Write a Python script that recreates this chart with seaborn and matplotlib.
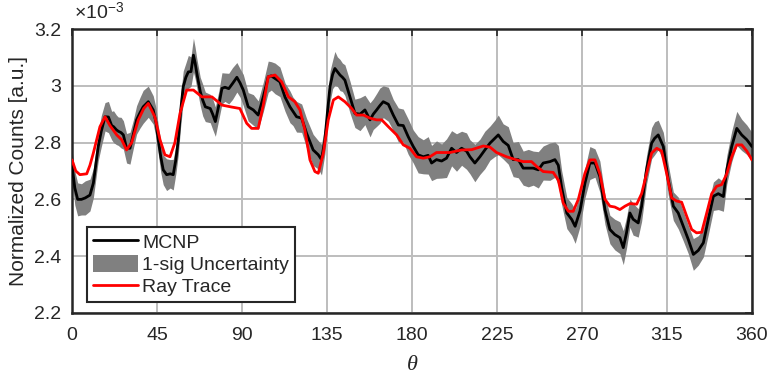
import numpy as np
import pandas as pd
import matplotlib
matplotlib.use("Agg")
import matplotlib.pyplot as plt
from matplotlib.patches import Patch
from matplotlib.lines import Line2D
import seaborn as sns

# MCNP angular response (x 1e-3) and its 1-sigma uncertainty
theta_mcnp = [0, 1.5, 3, 5, 7, 9.5, 11.3, 13.9, 15.5, 17.5,
              19.3, 21, 22, 23.5, 24.5, 26, 27.2, 28.9, 30.7, 32.5,
              34.2, 36, 37.7, 40.4, 43, 44.5, 45.7, 47, 48.3, 50.1,
              52, 53.6, 55, 56.3, 57.5, 58.9, 60.3, 61.6, 63, 64.3,
              65.2, 66.1, 67.9, 69.2, 70.6, 73.2, 74.5, 75.9, 77.7, 79.4,
              81, 83, 85, 87.3, 89, 90.7, 93.3, 96, 98.6, 101.3,
              103.9, 105.5, 107.5, 110.1, 112.8, 115.4, 117, 118.9, 121.6, 124.2,
              127.7, 130.4, 132.1, 133.9, 135.3, 136.6, 138, 139.2, 140.5, 141.9,
              143.2, 144.5, 147.2, 149.8, 152.5, 155.1, 157.8, 159.5, 161.3, 163,
              164.8, 167.5, 170.1, 172.8, 175.4, 178, 180.7, 183.3, 186, 188.6,
              190.4, 193, 195.7, 198.3, 201, 203.6, 206.3, 208.9, 210.7, 213.3,
              216, 218.6, 221.3, 223.9, 225.7, 228.3, 231, 233.6, 236.3, 238.9,
              241.6, 244.2, 246.9, 249.5, 253.1, 255.7, 257.5, 259.3, 262, 264.6,
              266.4, 269, 271.6, 274.2, 276.9, 279.5, 282.2, 284.8, 287.4, 290.1,
              291.9, 293.6, 295.4, 297.1, 299.8, 301.6, 304.2, 306.9, 308.5, 310.4,
              313.1, 315.7, 318.4, 321, 323.7, 326.3, 329, 331.6, 334.3, 336.9,
              339.6, 342.2, 344.9, 346.7, 349.3, 352, 354.6, 357.3, 360]
mcnp = [2.72, 2.64, 2.60, 2.60, 2.605, 2.615, 2.657, 2.786, 2.84, 2.891,
        2.89, 2.86, 2.856, 2.845, 2.84, 2.835, 2.827, 2.78, 2.78, 2.83,
        2.88, 2.905, 2.926, 2.944, 2.915, 2.87, 2.809, 2.75, 2.704, 2.687,
        2.69, 2.687, 2.74, 2.81, 2.91, 2.997, 3.03, 3.049, 3.05, 3.108,
        3.08, 3.044, 2.98, 2.95, 2.926, 2.92, 2.90, 2.874, 2.93, 2.991,
        2.995, 2.99, 3.008, 3.03, 3.01, 2.985, 2.926, 2.915, 2.897, 2.961,
        3.032, 3.035, 3.026, 3.014, 2.96, 2.926, 2.91, 2.891, 2.886, 2.833,
        2.774, 2.757, 2.74, 2.81, 2.91, 2.997, 3.04, 3.061, 3.05, 3.038,
        3.03, 3.02, 2.96, 2.903, 2.90, 2.915, 2.88, 2.90, 2.915, 2.93,
        2.944, 2.935, 2.897, 2.862, 2.86, 2.821, 2.786, 2.757, 2.75, 2.755,
        2.728, 2.74, 2.735, 2.745, 2.78, 2.765, 2.78, 2.77, 2.75, 2.728,
        2.75, 2.774, 2.798, 2.815, 2.827, 2.804, 2.79, 2.74, 2.74, 2.71,
        2.71, 2.71, 2.704, 2.728, 2.733, 2.74, 2.72, 2.640, 2.552, 2.529,
        2.505, 2.56, 2.657, 2.728, 2.728, 2.68, 2.564, 2.494, 2.476, 2.465,
        2.430, 2.482, 2.552, 2.53, 2.517, 2.576, 2.704, 2.798, 2.815, 2.827,
        2.786, 2.669, 2.576, 2.552, 2.505, 2.459, 2.406, 2.42, 2.447, 2.529,
        2.611, 2.62, 2.61, 2.704, 2.786, 2.850, 2.827, 2.81, 2.786]
sigma = [0.055, 0.06, 0.058, 0.055, 0.06, 0.056, 0.052, 0.05, 0.055, 0.05,
         0.055, 0.05, 0.056, 0.052, 0.05, 0.054, 0.05, 0.052, 0.056, 0.05,
         0.05, 0.054, 0.058, 0.055, 0.05, 0.052, 0.05, 0.055, 0.052, 0.056,
         0.05, 0.054, 0.05, 0.052, 0.056, 0.055, 0.05, 0.058, 0.052, 0.06,
         0.055, 0.052, 0.05, 0.056, 0.052, 0.05, 0.054, 0.052, 0.05, 0.055,
         0.05, 0.054, 0.056, 0.052, 0.05, 0.055, 0.05, 0.054, 0.05, 0.052,
         0.055, 0.05, 0.054, 0.052, 0.05, 0.056, 0.05, 0.054, 0.05, 0.052,
         0.055, 0.05, 0.054, 0.05, 0.052, 0.055, 0.05, 0.06, 0.052, 0.055,
         0.05, 0.054, 0.056, 0.05, 0.058, 0.052, 0.06, 0.054, 0.058, 0.062,
         0.056, 0.06, 0.055, 0.06, 0.058, 0.062, 0.058, 0.064, 0.06, 0.066,
         0.062, 0.066, 0.06, 0.068, 0.062, 0.066, 0.06, 0.064, 0.06, 0.066,
         0.062, 0.066, 0.06, 0.064, 0.07, 0.062, 0.066, 0.06, 0.064, 0.06,
         0.066, 0.06, 0.064, 0.06, 0.066, 0.062, 0.07, 0.06, 0.055, 0.056,
         0.06, 0.055, 0.052, 0.058, 0.05, 0.055, 0.052, 0.05, 0.054, 0.056,
         0.06, 0.055, 0.05, 0.056, 0.05, 0.054, 0.05, 0.055, 0.058, 0.052,
         0.05, 0.054, 0.05, 0.056, 0.052, 0.05, 0.056, 0.052, 0.05, 0.054,
         0.05, 0.056, 0.052, 0.05, 0.054, 0.06, 0.055, 0.052, 0.05]

# Ray-trace prediction (x 1e-3)
theta_ray = [0, 2, 4.2, 7.8, 9.5, 11.3, 14.8, 17.5, 20.1, 23.7,
             26.3, 28.9, 31.6, 35.1, 38, 40.4, 43.9, 46.6, 49.2, 51.9,
             54.5, 57.2, 60.7, 64.3, 68.8, 74.1, 79.4, 84.7, 88.9, 92.5,
             95.1, 98.6, 101.3, 103.9, 107.5, 111, 114.6, 118, 120.7, 123.3,
             126, 128.6, 130.4, 133.1, 135.7, 138.4, 141, 144.5, 148.1, 150.7,
             154.3, 157.8, 161.3, 164, 167.5, 171.9, 175.4, 178.9, 182.4, 186,
             189.5, 193, 200.1, 206.3, 211.6, 217.8, 221.3, 224.8, 230.1, 235.4,
             238.9, 243.3, 246, 249.5, 254.8, 257.5, 260.1, 262.8, 265.4, 268.1,
             271.6, 274.2, 276.9, 279.5, 282.2, 284.8, 287.4, 290.1, 292.8, 295.4,
             299, 301.6, 304.2, 306.9, 309.6, 312.2, 314.9, 317.5, 320.2, 322.8,
             325.5, 328.1, 330.7, 333.4, 336, 338.7, 341.3, 344, 346.7, 349.3,
             352, 354.6, 357.3, 360]
ray = [2.739, 2.70, 2.687, 2.69, 2.72, 2.763, 2.856, 2.891, 2.86, 2.827,
       2.81, 2.774, 2.80, 2.88, 2.92, 2.938, 2.89, 2.81, 2.757, 2.75,
       2.80, 2.903, 2.985, 2.985, 2.961, 2.961, 2.932, 2.925, 2.92, 2.868,
       2.850, 2.85, 2.932, 3.032, 3.038, 3.014, 2.961, 2.944, 2.915, 2.845,
       2.739, 2.698, 2.692, 2.763, 2.880, 2.950, 2.961, 2.944, 2.92, 2.897,
       2.897, 2.886, 2.88, 2.88, 2.856, 2.827, 2.792, 2.780, 2.75, 2.745,
       2.75, 2.765, 2.765, 2.774, 2.775, 2.788, 2.784, 2.765, 2.75, 2.739,
       2.733, 2.733, 2.716, 2.698, 2.695, 2.668, 2.587, 2.558, 2.558, 2.60,
       2.692, 2.739, 2.739, 2.69, 2.60, 2.576, 2.573, 2.564, 2.576, 2.585,
       2.583, 2.62, 2.69, 2.763, 2.78, 2.77, 2.69, 2.605, 2.594, 2.59,
       2.540, 2.494, 2.482, 2.484, 2.55, 2.62, 2.646, 2.652, 2.69, 2.75,
       2.792, 2.792, 2.77, 2.739]

x_ticks = [0, 45, 90, 135, 180, 225, 270, 315, 360]
y_ticks = [2.2, 2.4, 2.6, 2.8, 3.0, 3.2]

sns.set_style("white")
plt.rcParams["font.family"] = ["Liberation Sans", "DejaVu Sans"]
plt.rcParams["mathtext.fontset"] = "custom"
plt.rcParams["mathtext.rm"] = "Liberation Sans"
plt.rcParams["mathtext.it"] = "Liberation Serif:italic"

text_color = "#262626"

df_mcnp = pd.DataFrame({"theta": theta_mcnp, "counts": mcnp, "sigma": sigma})
df_ray = pd.DataFrame({"theta": theta_ray, "counts": ray})

fig = plt.figure(figsize=(7.7, 3.77), dpi=100)
ax = fig.add_axes([0.0935, 0.170, 0.883, 0.753])

band_color = (0.5, 0.5, 0.5)
ax.fill_between(df_mcnp["theta"], df_mcnp["counts"] - df_mcnp["sigma"],
                df_mcnp["counts"] + df_mcnp["sigma"], color=band_color,
                linewidth=0, zorder=2)
sns.lineplot(data=df_mcnp, x="theta", y="counts", ax=ax, color="black",
             linewidth=2.0, zorder=3, solid_joinstyle="round")
sns.lineplot(data=df_ray, x="theta", y="counts", ax=ax, color="#ff0000",
             linewidth=2.0, zorder=4, solid_joinstyle="round")

ax.set_xlim(0, 360)
ax.set_ylim(2.2, 3.2)
ax.set_xticks(x_ticks)
ax.set_yticks(y_ticks)
ax.set_yticklabels([f"{v:g}" for v in y_ticks])
ax.grid(True, color="#bdbdbd", linewidth=1.4, zorder=0)
ax.set_axisbelow(True)
ax.tick_params(direction="in", length=5, width=1.2, top=True, right=True,
               labelsize=14, colors=text_color)
ax.tick_params(axis="x", pad=10)
ax.tick_params(axis="y", pad=8)
for s in ax.spines.values():
    s.set_linewidth(1.8)
    s.set_color(text_color)

ax.set_xlabel(r"$\theta$", fontsize=16, color=text_color, labelpad=7)
ax.set_ylabel("Normalized Counts [a.u.]", fontsize=15, color=text_color,
              labelpad=4)
ax.text(0.003, 1.02, r"$\times$10$^{\mathrm{-3}}$", transform=ax.transAxes,
        fontsize=14, color=text_color, ha="left", va="bottom")

handles = [Line2D([0], [0], color="black", linewidth=2.0),
           Patch(facecolor=band_color, edgecolor="none"),
           Line2D([0], [0], color="#ff0000", linewidth=2.0)]
leg = ax.legend(handles, ["MCNP", "1-sig Uncertainty", "Ray Trace"],
                loc="lower left", bbox_to_anchor=(0.022, 0.038), fontsize=14,
                frameon=True, fancybox=False, framealpha=1,
                edgecolor=text_color, handlelength=2.3, handleheight=1.0,
                handletextpad=0.25, labelspacing=0.15, borderpad=0.3,
                borderaxespad=0)
leg.get_frame().set_linewidth(1.5)

fig.savefig("out.png", dpi=100)
